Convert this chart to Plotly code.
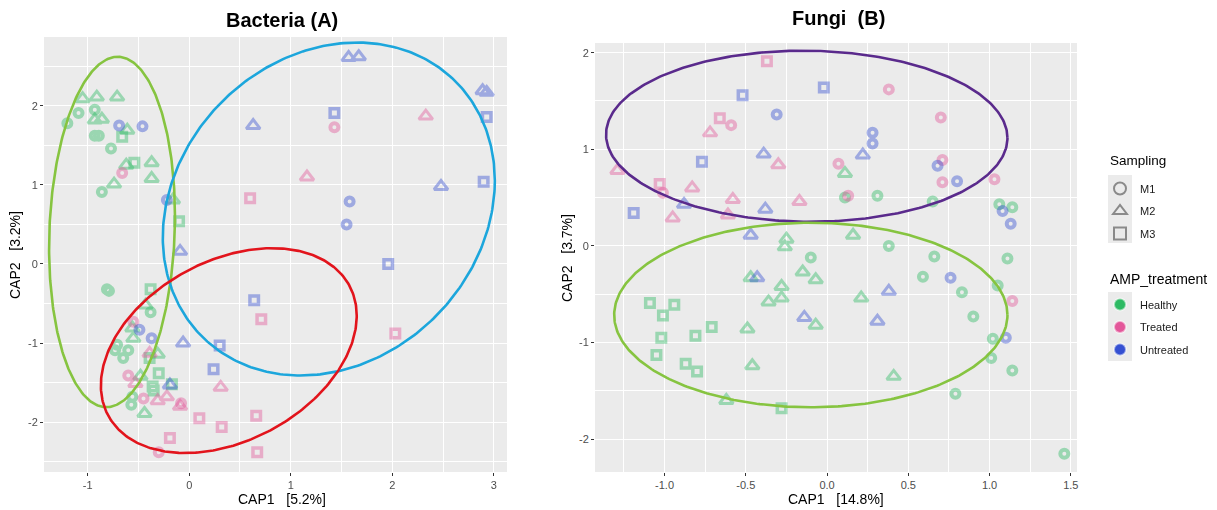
import numpy as np
import plotly.graph_objects as go

# ---------------- Bacteria (A): CAP scores ----------------
bac_cap1 = [
    # Healthy
    -1.20, -1.09, -1.05, -0.91, -0.71, -0.93, -0.93, -0.86, -0.93, -0.89,
    -0.61, -0.66, -0.77, -0.62, -0.54, -0.37, -0.37, -0.74, -0.86, -0.16,
    -0.10, -0.81, -0.79, -0.38, -0.43, -0.38, -0.56, -0.55, -0.71, -0.73,
    -0.60, -0.65, -0.31, -0.39, -0.48, -0.30, -0.35, -0.36, -0.17, -0.56,
    -0.57, -0.44,
    # Treated
    -0.66, 1.43, 2.33, 1.16, 0.60, 0.71, 2.03, -0.55, -0.39, -0.60,
    -0.53, 0.31, -0.45, -0.31, -0.22, -0.08, -0.09, 0.10, 0.32, 0.66,
    -0.19, -0.30, 0.67,
    # Untreated
    -0.69, -0.46, -0.22, -0.09, 1.57, 1.67, 0.63, 1.43, 2.89, 2.93,
    2.93, 2.48, 2.90, 1.58, 1.55, 1.96, 0.64, -0.49, -0.37, -0.06,
    0.30, 0.24, -0.19,
]
bac_cap2 = [
    1.78, 1.91, 2.09, 2.11, 2.11, 1.95, 1.82, 1.83, 1.62, 1.62,
    1.69, 1.61, 1.46, 1.25, 1.28, 1.28, 1.08, 1.01, 0.91, 0.81,
    0.54, -0.32, -0.34, -0.32, -0.52, -0.61, -0.81, -0.94, -1.02, -1.09,
    -1.09, -1.19, -1.14, -1.19, -1.42, -1.38, -1.60, -1.55, -1.52, -1.68,
    -1.78, -1.89,
    1.15, 1.73, 1.87, 1.10, 0.83, -0.70, -0.88, -0.73, -1.13, -1.41,
    -1.51, -1.56, -1.70, -1.73, -1.68, -1.76, -1.80, -1.95, -2.06, -1.92,
    -2.20, -2.38, -2.38,
    1.75, 1.74, 0.81, 0.16, 2.61, 2.62, 1.75, 1.91, 2.19, 2.17,
    1.86, 0.98, 1.04, 0.79, 0.50, 0.00, -0.46, -0.83, -0.94, -1.00,
    -1.03, -1.33, -1.53,
]
bac_sampling = [
    "M1", "M1", "M2", "M2", "M2", "M1", "M2", "M2", "M1", "M1",
    "M2", "M3", "M1", "M2", "M3", "M2", "M2", "M2", "M1", "M2",
    "M3", "M1", "M1", "M3", "M2", "M1", "M2", "M2", "M1", "M1",
    "M1", "M1", "M2", "M3", "M2", "M3", "M3", "M3", "M3", "M1",
    "M1", "M2",
    "M1", "M1", "M2", "M2", "M3", "M3", "M3", "M1", "M2", "M1",
    "M2", "M2", "M1", "M2", "M2", "M1", "M2", "M3", "M3", "M3",
    "M3", "M1", "M3",
    "M1", "M1", "M1", "M2", "M2", "M2", "M2", "M3", "M2", "M2",
    "M3", "M2", "M3", "M1", "M1", "M3", "M3", "M1", "M1", "M2",
    "M3", "M3", "M2",
]
bac_treatment = ["Healthy"] * 42 + ["Treated"] * 23 + ["Untreated"] * 23

# ---------------- Fungi (B): CAP scores ----------------
fun_cap1 = [
    # Healthy
    0.11, 0.11, 0.31, 0.65, 1.06, 1.14, 0.16, -0.25, -0.26, 0.38,
    -0.10, 0.66, 1.11, -0.47, -0.15, -0.07, -0.28, 0.59, 0.83, 1.05,
    0.21, -0.36, -0.28, -1.09, -0.94, -1.01, -0.71, -0.81, -1.02, -1.05,
    -0.87, -0.80, -0.49, -0.07, 0.90, 1.02, 1.01, 1.14, -0.46, 0.41,
    0.79, -0.62, -0.28, 1.46,
    # Treated
    -0.37, 0.38, -0.66, -0.59, -0.72, 0.70, -0.30, 0.07, 0.71, 0.71,
    1.03, -1.29, -1.03, -1.01, -0.83, 0.13, -0.58, -0.17, -0.95, -0.61,
    1.14,
    # Untreated
    -0.02, -0.52, -0.31, 0.28, 0.28, -0.39, 0.22, -0.77, 0.68, 0.80,
    -0.88, -1.19, -0.38, 1.08, 1.13, -0.47, -0.43, 0.76, 0.38, -0.14,
    0.31, 1.10,
]
fun_cap2 = [
    0.75, 0.50, 0.52, 0.46, 0.43, 0.40, 0.11, 0.07, -0.01, 0.00,
    -0.12, -0.11, -0.13, -0.33, -0.27, -0.35, -0.42, -0.32, -0.48, -0.41,
    -0.54, -0.58, -0.54, -0.59, -0.61, -0.72, -0.84, -0.93, -0.95, -1.13,
    -1.22, -1.30, -0.86, -0.82, -0.73, -0.96, -1.16, -1.29, -1.24, -1.35,
    -1.53, -1.60, -1.68, -2.15,
    1.91, 1.62, 1.32, 1.25, 1.17, 1.33, 0.84, 0.85, 0.89, 0.66,
    0.69, 0.78, 0.64, 0.55, 0.60, 0.52, 0.48, 0.46, 0.29, 0.32,
    -0.57,
    1.64, 1.56, 1.36, 1.17, 1.06, 0.95, 0.94, 0.87, 0.83, 0.67,
    0.43, 0.34, 0.38, 0.36, 0.23, 0.11, -0.33, -0.33, -0.47, -0.74,
    -0.78, -0.95,
]
fun_sampling = [
    "M2", "M1", "M1", "M1", "M1", "M1", "M2", "M2", "M2", "M1",
    "M1", "M1", "M1", "M2", "M2", "M2", "M2", "M1", "M1", "M1",
    "M2", "M2", "M2", "M3", "M3", "M3", "M3", "M3", "M3", "M3",
    "M3", "M3", "M2", "M2", "M1", "M1", "M1", "M1", "M2", "M2",
    "M1", "M2", "M3", "M1",
    "M3", "M1", "M3", "M1", "M2", "M1", "M2", "M1", "M1", "M1",
    "M1", "M2", "M3", "M1", "M2", "M1", "M2", "M2", "M2", "M2",
    "M1",
    "M3", "M3", "M1", "M1", "M1", "M2", "M2", "M3", "M1", "M1",
    "M2", "M3", "M2", "M1", "M1", "M2", "M2", "M1", "M2", "M2",
    "M2", "M1",
]
fun_treatment = ["Healthy"] * 44 + ["Treated"] * 21 + ["Untreated"] * 22

# ---------------- Confidence ellipses (centre, spread, correlation) ----------------
bac_ellipse_cx = [-0.76, 1.375, 0.39]
bac_ellipse_cy = [0.405, 0.695, -1.095]
bac_ellipse_sx = [0.62, 1.635, 1.26]
bac_ellipse_sy = [2.215, 2.105, 1.295]
bac_ellipse_rho = [0.09, 0.17, 0.34]

fun_ellipse_cx = [-0.125, -0.10]
fun_ellipse_cy = [1.135, -0.715]
fun_ellipse_sx = [1.235, 1.21]
fun_ellipse_sy = [0.885, 0.955]
fun_ellipse_rho = [-0.02, 0.0]

# ---------------- Styling ----------------
TREAT_COLORS = {"Healthy": "#2dba63", "Treated": "#e3579a", "Untreated": "#3550d2"}
SHAPES = {"M1": "circle-open", "M2": "triangle-up-open", "M3": "square-open"}
SHAPE_SIZE = {"M1": 8, "M2": 12, "M3": 8.5}
SHAPE_STROKE = {"M1": 4, "M2": 3, "M3": 3.5}
BAC_ELLIPSE_COLORS = ["#86c440", "#1ca6dc", "#e2141c"]
FUN_ELLIPSE_COLORS = ["#5a2a8c", "#86c440"]

W, H = 1217, 510
fig = go.Figure()


def add_points(cap1, cap2, sampling, treatment, xa, ya):
    # one trace per treatment and sampling time so each symbol gets its own stroke
    for grp in ["Healthy", "Treated", "Untreated"]:
        for s in ["M1", "M2", "M3"]:
            idx = [i for i, t in enumerate(treatment) if t == grp and sampling[i] == s]
            if not idx:
                continue
            fig.add_trace(go.Scatter(
                x=[cap1[i] for i in idx], y=[cap2[i] for i in idx],
                mode="markers", xaxis=xa, yaxis=ya, showlegend=False,
                hoverinfo="skip", opacity=0.42,
                marker=dict(symbol=SHAPES[s], size=SHAPE_SIZE[s],
                            color=TREAT_COLORS[grp],
                            line=dict(width=SHAPE_STROKE[s], color=TREAT_COLORS[grp])),
            ))


def add_ellipses(cx, cy, sx, sy, rho, colors, xa, ya):
    t = np.linspace(0, 2 * np.pi, 361)
    for k in range(len(cx)):
        ex = cx[k] + sx[k] * np.cos(t)
        ey = cy[k] + sy[k] * (rho[k] * np.cos(t) + np.sqrt(1 - rho[k] ** 2) * np.sin(t))
        fig.add_trace(go.Scatter(
            x=ex, y=ey, mode="lines", xaxis=xa, yaxis=ya, showlegend=False,
            hoverinfo="skip", line=dict(color=colors[k], width=2.6),
        ))


add_points(bac_cap1, bac_cap2, bac_sampling, bac_treatment, "x", "y")
add_ellipses(bac_ellipse_cx, bac_ellipse_cy, bac_ellipse_sx, bac_ellipse_sy,
             bac_ellipse_rho, BAC_ELLIPSE_COLORS, "x", "y")
add_points(fun_cap1, fun_cap2, fun_sampling, fun_treatment, "x2", "y2")
add_ellipses(fun_ellipse_cx, fun_ellipse_cy, fun_ellipse_sx, fun_ellipse_sy,
             fun_ellipse_rho, FUN_ELLIPSE_COLORS, "x2", "y2")

# Legend entries: sampling shapes and treatment colours
for s in ["M1", "M2", "M3"]:
    fig.add_trace(go.Scatter(
        x=[None], y=[None], mode="markers", name=s, legend="legend",
        legendgroup=s,
        marker=dict(symbol=SHAPES[s], size=SHAPE_SIZE[s] + 1, color="#8a8a8a",
                    line=dict(width=SHAPE_STROKE[s], color="#8a8a8a")),
    ))
for grp in ["Healthy", "Treated", "Untreated"]:
    fig.add_trace(go.Scatter(
        x=[None], y=[None], mode="markers", name=grp, legend="legend2",
        legendgroup=grp,
        marker=dict(symbol="circle", size=8, color=TREAT_COLORS[grp],
                    line=dict(width=2.5, color="rgba(255,255,255,0.5)")),
    ))


def axis_style(domain, rng, ticks, labels, minor_dtick, anchor):
    return dict(
        domain=domain, range=rng, anchor=anchor,
        tickvals=ticks, ticktext=labels,
        showgrid=True, gridcolor="white", gridwidth=1.2,
        minor=dict(dtick=minor_dtick, showgrid=True, gridcolor="white",
                   gridwidth=0.5, ticks=""),
        zeroline=False, showline=False,
        ticks="outside", ticklen=3, tickwidth=1, tickcolor="#333333",
        tickfont=dict(family="Liberation Sans, Arial", size=11, color="#4d4d4d"),
        fixedrange=True,
    )


legend_common = dict(
    xanchor="left", yanchor="top", bgcolor="rgba(0,0,0,0)",
    font=dict(family="Liberation Sans, Arial", size=11, color="#1a1a1a"),
    itemsizing="constant", tracegroupgap=3.5,
)

fig.update_layout(
    width=W, height=H,
    margin=dict(l=0, r=0, t=0, b=0),
    paper_bgcolor="white",
    plot_bgcolor="#ebebeb",
    font=dict(family="Liberation Sans, Arial", color="#000000"),
    xaxis=axis_style([44 / W, 507 / W], [-1.43, 3.13], [-1, 0, 1, 2, 3],
                     ["-1", "0", "1", "2", "3"], 0.5, "y"),
    yaxis=axis_style([1 - 472 / H, 1 - 37 / H], [-2.63, 2.87], [-2, -1, 0, 1, 2],
                     ["-2", "-1", "0", "1", "2"], 0.5, "x"),
    xaxis2=axis_style([595 / W, 1077 / W], [-1.428, 1.538],
                      [-1.0, -0.5, 0.0, 0.5, 1.0, 1.5],
                      ["-1.0", "-0.5", "0.0", "0.5", "1.0", "1.5"], 0.25, "y2"),
    yaxis2=axis_style([1 - 472 / H, 1 - 43 / H], [-2.34, 2.10], [-2, -1, 0, 1, 2],
                      ["-2", "-1", "0", "1", "2"], 0.5, "x2"),
    legend=dict(x=1100 / W, y=1 - 174 / H, **legend_common),
    legend2=dict(x=1100 / W, y=1 - 290 / H, **legend_common),
)

# grey key panels behind the legend symbols
key_panels = [(1108, 1132, 175, 243), (1108, 1132, 292, 361)]
fig.update_layout(shapes=[
    dict(type="rect", xref="paper", yref="paper", layer="below",
         x0=x0 / W, x1=x1 / W, y0=1 - y1 / H, y1=1 - y0 / H,
         fillcolor="#ebebeb", line=dict(width=0))
    for x0, x1, y0, y1 in key_panels
])

NB = "\u00a0"
annotations = [
    dict(text="<b>Bacteria (A)</b>", x=282 / W, y=1 - 20 / H, font=dict(size=20)),
    dict(text=f"<b>Fungi{NB}{NB}(B)</b>", x=838 / W, y=1 - 18 / H, font=dict(size=20)),
    dict(text=f"CAP1{NB}{NB}{NB}[5.2%]", x=282 / W, y=1 - 499 / H, font=dict(size=14)),
    dict(text=f"CAP1{NB}{NB}{NB}[14.8%]", x=836 / W, y=1 - 499 / H, font=dict(size=14)),
    dict(text=f"CAP2{NB}{NB}{NB}[3.2%]", x=15 / W, y=1 - 255 / H, font=dict(size=14),
         textangle=-90),
    dict(text=f"CAP2{NB}{NB}{NB}[3.7%]", x=567 / W, y=1 - 258 / H, font=dict(size=14),
         textangle=-90),
]
for a in annotations:
    a.update(xref="paper", yref="paper", showarrow=False,
             xanchor="center", yanchor="middle")
    a["font"].update(family="Liberation Sans, Arial", color="#000000")
# legend headings
for txt, ypix, fs in [("Sampling", 160, 13.5), ("AMP_treatment", 279, 14)]:
    annotations.append(dict(text=txt, x=1108 / W, y=1 - ypix / H, xref="paper",
                            yref="paper", showarrow=False, xanchor="left",
                            yanchor="middle",
                            font=dict(family="Liberation Sans, Arial", size=fs,
                                      color="#000000")))
fig.update_layout(annotations=annotations)

fig.write_html("out.html")
